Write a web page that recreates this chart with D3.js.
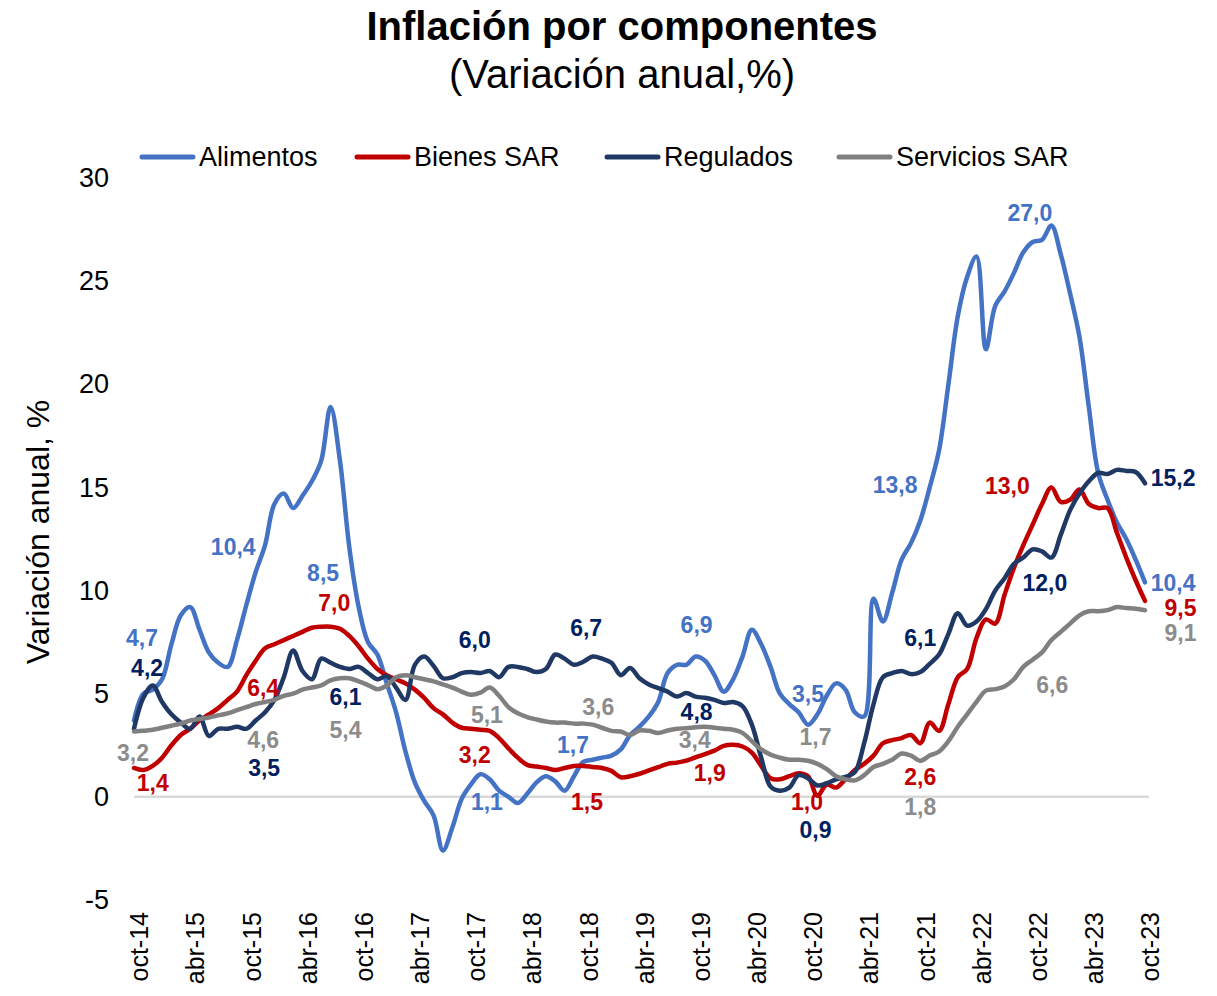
<!DOCTYPE html>
<html lang="es">
<head>
<meta charset="utf-8">
<script src="https://cdn.jsdelivr.net/npm/d3@7/dist/d3.min.js"></script>
<style>
  body { margin: 0; background: #fff; }
  svg text { font-family: "Liberation Sans", Arial, sans-serif; }
</style>
</head>
<body>
<svg id="chart" width="1217" height="996"></svg>
<script>
// ---------------------------------------------------------------- //
// Data (monthly, oct-14 .. oct-23)

var tickLabels = ['oct-14','abr-15','oct-15','abr-16','oct-16','abr-17','oct-17','abr-18','oct-18','abr-19',
                  'oct-19','abr-20','oct-20','abr-21','oct-21','abr-22','oct-22','abr-23','oct-23'];

var alimentos = [
  3.7,5.0,5.2,5.7,7.4,8.8,9.2,8.1,7.0,6.5,
  6.3,7.6,9.3,10.9,12.2,14.2,14.7,14.0,14.6,15.3,
  16.3,18.9,16.3,12.1,9.2,7.5,6.9,5.5,4.1,2.2,
  0.7,-0.2,-0.9,-2.6,-1.5,-0.1,0.6,1.1,0.85,0.3,
  0.0,-0.3,0.15,0.7,1.0,0.75,0.3,1.0,1.7,1.8,
  1.9,2.0,2.3,3.0,3.4,3.9,4.6,6.0,6.4,6.4,
  6.8,6.6,5.9,5.1,5.7,6.8,8.1,7.4,6.3,5.0,
  4.5,4.1,3.5,4.0,4.9,5.5,5.2,4.1,3.9,9.6,
  8.5,9.9,11.5,12.3,13.4,15.0,16.8,20.0,23.3,25.2,
  26.2,21.7,23.8,24.5,25.4,26.4,26.9,27.0,27.7,26.3,
  24.4,22.3,18.9,15.7,14.4,13.3,12.5,11.5,10.4
];

var bienesSAR = [
  1.4,1.3,1.5,1.9,2.5,3.0,3.3,3.7,4.0,4.3,
  4.7,5.1,5.9,6.6,7.2,7.4,7.6,7.8,8.0,8.2,
  8.25,8.25,8.15,7.8,7.3,6.7,6.2,5.9,5.7,5.5,
  5.2,4.8,4.3,4.0,3.6,3.35,3.3,3.25,3.2,2.85,
  2.35,1.9,1.55,1.47,1.4,1.3,1.4,1.5,1.5,1.45,
  1.4,1.26,0.95,1.0,1.12,1.28,1.44,1.6,1.66,1.76,
  1.92,2.07,2.24,2.47,2.52,2.44,2.15,1.5,0.9,0.85,
  1.0,1.15,1.0,0.05,0.6,0.45,0.85,1.3,1.6,2.0,
  2.6,2.75,2.85,3.0,2.6,3.6,3.2,4.5,5.8,6.2,
  7.7,8.6,8.4,9.8,11.1,12.2,13.2,14.2,15.0,14.3,
  14.4,14.9,14.2,14.0,14.0,12.8,11.6,10.5,9.5
];

var regulados = [
  3.3,4.8,5.4,4.6,4.0,3.6,3.3,3.9,2.95,3.3,
  3.3,3.4,3.3,3.7,4.1,4.7,5.8,7.1,6.1,5.7,
  6.7,6.5,6.3,6.2,6.3,6.0,5.7,5.85,5.3,4.7,
  6.4,6.8,6.35,5.75,5.8,6.0,6.05,6.0,6.1,5.8,
  6.3,6.3,6.2,6.05,6.2,6.9,6.7,6.4,6.55,6.8,
  6.7,6.5,5.9,6.25,5.75,5.45,5.27,5.1,4.86,5.03,
  4.86,4.8,4.7,4.55,4.6,4.4,3.5,1.9,0.5,0.3,
  0.45,1.05,0.9,0.55,0.66,0.85,0.97,1.2,2.6,4.5,
  5.8,6.0,6.1,5.95,6.05,6.45,6.9,7.9,8.9,8.3,
  8.5,9.1,10.0,10.6,11.3,11.6,12.0,11.9,11.6,12.7,
  13.9,14.7,15.3,15.7,15.65,15.85,15.8,15.75,15.2
];

var serviciosSAR = [
  3.17,3.2,3.25,3.35,3.45,3.55,3.7,3.77,3.85,3.95,
  4.05,4.2,4.35,4.5,4.6,4.7,4.9,5.0,5.2,5.3,
  5.4,5.65,5.75,5.75,5.6,5.42,5.22,5.4,5.8,5.9,
  5.8,5.7,5.6,5.45,5.3,5.1,4.95,5.05,5.3,4.9,
  4.35,4.05,3.87,3.75,3.65,3.6,3.6,3.55,3.55,3.5,
  3.35,3.2,3.17,3.0,3.22,3.2,3.1,3.22,3.3,3.33,
  3.37,3.4,3.35,3.3,3.25,3.1,2.7,2.3,2.05,1.9,
  1.8,1.8,1.75,1.6,1.35,1.0,0.85,0.8,1.05,1.45,
  1.6,1.8,2.1,2.0,1.75,2.0,2.2,2.7,3.4,4.0,
  4.6,5.15,5.22,5.35,5.7,6.3,6.65,7.0,7.6,8.0,
  8.4,8.8,9.0,9.0,9.05,9.2,9.15,9.12,9.05
];

// data labels: [month index, anchor value, shown value]
var labelsAlimentos = [[0.85,7.71,4.7],[10.6,12.12,10.4],[20.2,10.86,8.5],[37.7,-0.24,1.1],[46.9,2.52,1.7],
                       [60.1,8.34,6.9],[72.0,4.97,3.5],[81.3,15.12,13.8],[95.7,28.31,27.0],[111.0,10.37,10.4]];
var labelsBienes    = [[2.0,0.68,1.4],[13.8,5.28,6.4],[21.4,9.4,7.0],[36.4,2.04,3.2],[48.4,-0.24,1.5],
                       [61.5,1.16,1.9],[71.9,-0.24,1.0],[84.0,0.97,2.6],[93.3,15.07,13.0],[111.8,9.16,9.5]];
var labelsRegulados = [[1.4,6.25,4.2],[13.9,1.4,3.5],[22.6,4.85,6.1],[36.4,7.6,6.0],[48.3,8.19,6.7],
                       [60.1,4.12,4.8],[72.8,-1.6,0.9],[84.0,7.71,6.1],[97.3,10.37,12.0],[111.0,15.46,15.2]];
var labelsServicios = [[-0.1,2.13,3.2],[13.8,2.76,4.6],[22.6,3.25,5.4],[37.7,3.97,5.1],[49.6,4.36,3.6],
                       [59.9,2.76,3.4],[72.8,2.91,1.7],[84.0,-0.48,1.8],[98.1,5.43,6.6],[111.8,7.95,9.1]];

var seriesNames = ['Alimentos','Bienes SAR','Regulados','Servicios SAR'];

// ---------------------------------------------------------------- //
// Setup

var width = 1217, height = 996;
var svg = d3.select('#chart');

var series = [
  { name: seriesNames[0], values: alimentos,    labels: labelsAlimentos, stroke: '#4472C4', text: '#4472C4' },
  { name: seriesNames[1], values: bienesSAR,    labels: labelsBienes,    stroke: '#C00000', text: '#C00000' },
  { name: seriesNames[2], values: regulados,    labels: labelsRegulados, stroke: '#203864', text: '#002060' },
  { name: seriesNames[3], values: serviciosSAR, labels: labelsServicios, stroke: '#808080', text: '#8C8C8C' }
];

var x = d3.scaleLinear().domain([0, alimentos.length-1]).range([134, 1145]);
var y = d3.scaleLinear().domain([-5, 30]).range([900, 178]);
var fmt = d3.formatLocale({ decimal: ',', thousands: '.', grouping: [3], currency: ['', ''] }).format('.1f');

// Title
svg.append('text').attr('x', 622).attr('y', 40).attr('text-anchor', 'middle')
  .style('font-size', '40px').style('font-weight', 'bold').text('Inflación por componentes');
svg.append('text').attr('x', 622).attr('y', 88).attr('text-anchor', 'middle')
  .style('font-size', '40px').text('(Variación anual,%)');

// Zero line
svg.append('line').attr('x1', 134).attr('x2', 1149).attr('y1', y(0)).attr('y2', y(0))
  .attr('stroke', '#D9D9D9').attr('stroke-width', 2.5);

// Y axis
var yAxis = svg.append('g').attr('transform', 'translate(109,0)')
  .call(d3.axisLeft(y).tickValues(d3.range(-5, 31, 5)).tickFormat(function(d){ return String(d); })
    .tickSize(0).tickPadding(0));
yAxis.select('.domain').remove();
yAxis.selectAll('text').style('font-size', '27px').attr('fill', '#000')
  .style('font-family', '"Liberation Sans", Arial, sans-serif');

svg.append('text').attr('transform', 'translate(49,532) rotate(-90)')
  .attr('text-anchor', 'middle').style('font-size', '32px').text('Variación anual, %');

// X axis
var xAxis = svg.append('g').attr('transform', 'translate(0,912)')
  .call(d3.axisBottom(x).tickValues(d3.range(0, alimentos.length, 6))
    .tickFormat(function(d, i){ return tickLabels[i]; }).tickSize(0).tickPadding(0));
xAxis.select('.domain').remove();
xAxis.selectAll('text')
  .attr('transform', 'rotate(-90)').attr('text-anchor', 'end')
  .attr('x', 0).attr('y', 0).attr('dy', '0.55em')
  .style('font-size', '25px').attr('fill', '#000')
  .style('font-family', '"Liberation Sans", Arial, sans-serif');

// Lines
var line_gen = d3.line().x(function(d, i){ return x(i); }).y(function(d){ return y(d); })
  .curve(d3.curveCatmullRom.alpha(0.5));

svg.append('g').selectAll('path').data(series).enter().append('path')
  .attr('d', function(d){ return line_gen(d.values); })
  .attr('fill', 'none').attr('stroke', function(d){ return d.stroke; })
  .attr('stroke-width', 4.5).attr('stroke-linecap', 'round').attr('stroke-linejoin', 'round');

// Data labels
series.forEach(function(s){
  svg.append('g').selectAll('text').data(s.labels).enter().append('text')
    .attr('x', function(d){ return x(d[0]); })
    .attr('y', function(d){ return y(d[1]); })
    .attr('dy', '0.35em').attr('text-anchor', 'middle')
    .style('font-size', '23px').style('font-weight', 'bold')
    .attr('fill', s.text).text(function(d){ return fmt(d[2]); });
});

// Legend
var legendX = [142, 357, 607, 839];
var legend = svg.append('g').selectAll('g').data(series).enter().append('g')
  .attr('transform', function(d, i){ return 'translate(' + legendX[i] + ',157)'; });
legend.append('line').attr('x1', 0).attr('x2', 51).attr('y1', 0).attr('y2', 0)
  .attr('stroke', function(d){ return d.stroke; }).attr('stroke-width', 5).attr('stroke-linecap', 'round');
legend.append('text').attr('x', 57).attr('dy', '0.35em')
  .style('font-size', '27px').text(function(d){ return d.name; });
</script>
</body>
</html>
